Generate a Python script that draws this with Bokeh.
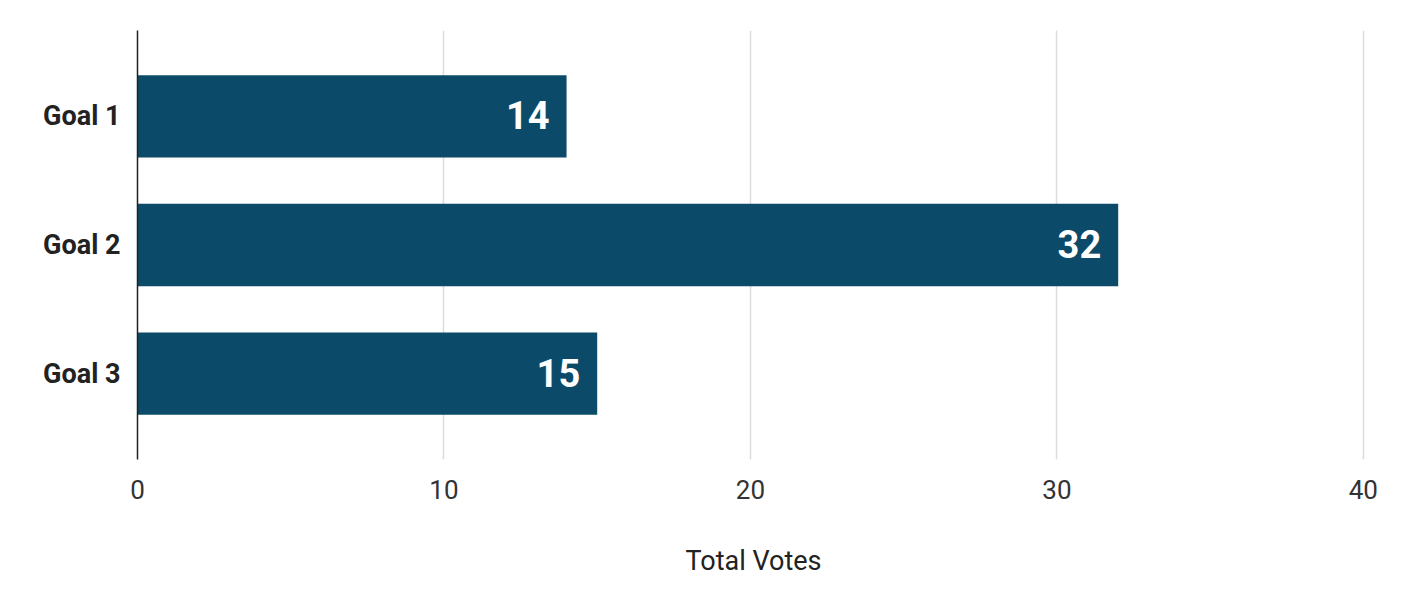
from bokeh.plotting import figure
from bokeh.models import ColumnDataSource, Range1d, FixedTicker, LabelSet
from bokeh.core.properties import value
from bokeh.embed import file_html
from bokeh.resources import INLINE

categories = ["Goal 1", "Goal 2", "Goal 3"]
votes = [14, 32, 15]
x_ticks = [0, 10, 20, 30, 40]

n = len(categories)
positions = [n - i for i in range(n)]  # Goal 1 at top

source = ColumnDataSource(dict(
    y=positions,
    votes=votes,
    label=[str(v) for v in votes],
))

p = figure(width=1389, height=579, output_backend="svg", toolbar_location=None,
           x_range=Range1d(0, 40.2), y_range=Range1d(0.333, n + 0.667),
           min_border_left=137, min_border_right=20, min_border_top=30, min_border_bottom=118)
p.outline_line_color = None
p.background_fill_color = "white"
p.border_fill_color = "white"

p.hbar(y="y", right="votes", left=0, height=0.64, source=source,
       fill_color="#0c4a69", line_color=None)

labels = LabelSet(x="votes", y="y", text="label", source=source,
                  text_align="right", text_baseline="middle", x_offset=-17, y_offset=1,
                  text_color="white", text_font=value("Roboto"), text_font_style="bold",
                  text_font_size="38px")
p.add_layout(labels)

# x axis
p.xaxis.ticker = FixedTicker(ticks=x_ticks)
p.xaxis.axis_line_color = None
p.xaxis.major_tick_line_color = None
p.xaxis.minor_tick_line_color = None
p.xaxis.major_label_text_font = "Roboto"
p.xaxis.major_label_text_font_size = "26px"
p.xaxis.major_label_text_color = "#333333"
p.xaxis.major_label_standoff = 14
p.xaxis.axis_label = "Total Votes"
p.xaxis.axis_label_text_font = "Roboto"
p.xaxis.axis_label_text_font_style = "normal"
p.xaxis.axis_label_text_font_size = "27px"
p.xaxis.axis_label_text_color = "#222222"
p.xaxis.axis_label_standoff = 43

# y axis
p.yaxis.ticker = FixedTicker(ticks=positions)
p.yaxis.major_label_overrides = {pos: cat for pos, cat in zip(positions, categories)}
p.yaxis.axis_line_color = "#222222"
p.yaxis.axis_line_width = 1.5
p.yaxis.major_tick_line_color = None
p.yaxis.minor_tick_line_color = None
p.yaxis.major_label_text_font = "Roboto"
p.yaxis.major_label_text_font_style = "bold"
p.yaxis.major_label_text_font_size = "27px"
p.yaxis.major_label_text_color = "#222222"
p.yaxis.major_label_standoff = 11

p.xgrid.ticker = FixedTicker(ticks=x_ticks[1:])
p.xgrid.grid_line_color = "#dcdcdc"
p.xgrid.grid_line_width = 1.5
p.ygrid.grid_line_color = None

open("out.html", "w").write(file_html(p, INLINE))
